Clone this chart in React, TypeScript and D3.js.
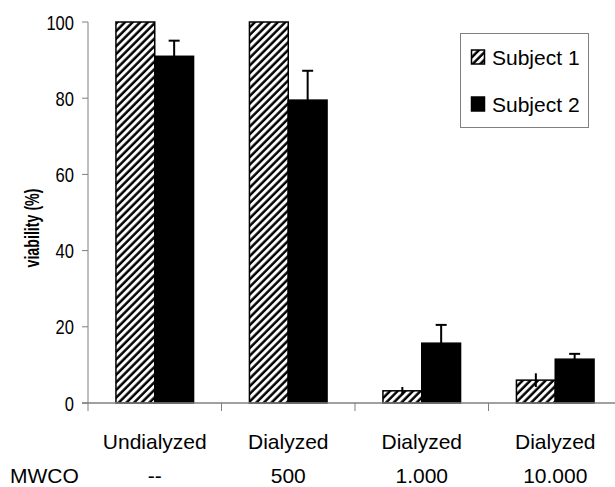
import * as d3 from 'd3';

// chart data
const categories = ['Undialyzed', 'Dialyzed 500', 'Dialyzed 1.000', 'Dialyzed 10.000'];
const treatmentLabels = ['Undialyzed', 'Dialyzed', 'Dialyzed', 'Dialyzed'];
const mwcoLabels = ['--', '500', '1.000', '10.000'];
const seriesNames = ['Subject 1', 'Subject 2'];
const subject1 = [100, 100, 3.2, 6.0];
const subject1Err = [0, 0, 1.0, 1.8];
const subject2 = [91, 79.5, 15.7, 11.5];
const subject2Err = [4.1, 7.7, 4.8, 1.4];
const yTicks = [0, 20, 40, 60, 80, 100];

const W = 615;
const H = 487;
const font = 'Arial, "Liberation Sans", Helvetica, sans-serif';

export default function App() {
    const margin = { left: 88, top: 22, bottom: 403 };
    const catWidth = 133.5;

    const x = d3.scaleBand<string>()
        .domain(categories)
        .range([margin.left, margin.left + catWidth * categories.length])
        .paddingInner(0)
        .paddingOuter(0);

    const xSub = d3.scaleBand<string>()
        .domain(seriesNames)
        .range([0, x.bandwidth()])
        .paddingInner(0)
        .paddingOuter(0.72);

    const y = d3.scaleLinear().domain([0, 100]).range([margin.bottom, margin.top]);

    const series = [
        { name: seriesNames[0], values: subject1, errs: subject1Err, hatched: true },
        { name: seriesNames[1], values: subject2, errs: subject2Err, hatched: false },
    ];

    const axisColor = '#808080';
    const bw = xSub.bandwidth();

    return (
        <svg
            width={W}
            height={H}
            style={{ position: 'absolute', left: 0, top: 0, background: '#fff' }}
            fontFamily={font}
        >
            <defs>
                <pattern id="hatch" width="5.4" height="5.4" patternUnits="userSpaceOnUse"
                    patternTransform="rotate(45)">
                    <rect width="5.4" height="5.4" fill="#fff" />
                    <line x1="1.5" y1="0" x2="1.5" y2="5.4" stroke="#000" strokeWidth="2.5" />
                </pattern>
            </defs>

            {/* y axis */}
            <line x1={margin.left} x2={margin.left} y1={y(100)} y2={y(0)} stroke={axisColor} strokeWidth={1} />
            {yTicks.map(t => (
                <g key={t}>
                    <line x1={margin.left - 6} x2={margin.left} y1={y(t)} y2={y(t)} stroke={axisColor} />
                    <text
                        x={74}
                        y={y(t)}
                        textAnchor="end"
                        dominantBaseline="central"
                        fontSize={21}
                        textLength={String(t).length * 9.2}
                        lengthAdjust="spacingAndGlyphs"
                    >{t}</text>
                </g>
            ))}

            {/* y title */}
            <text
                transform={`translate(39,228) rotate(-90)`}
                textAnchor="middle"
                fontSize={20}
                fontWeight="bold"
                textLength={79}
                lengthAdjust="spacingAndGlyphs"
            >viability (%)</text>

            {/* bars */}
            {series.map(s => (
                <g key={s.name}>
                    {categories.map((c, i) => {
                        const bx = (x(c) || 0) + (xSub(s.name) || 0);
                        return (
                            <rect
                                key={c}
                                x={bx}
                                y={y(s.values[i])}
                                width={bw}
                                height={y(0) - y(s.values[i])}
                                fill={s.hatched ? 'url(#hatch)' : '#000'}
                                stroke="#000"
                                strokeWidth={1.5}
                            />
                        );
                    })}
                </g>
            ))}

            {/* error bars */}
            {series.map(s => (
                <g key={s.name + '-err'}>
                    {categories.map((c, i) => {
                        if (!s.errs[i]) return null;
                        const cx = (x(c) || 0) + (xSub(s.name) || 0) + bw / 2;
                        const top = y(s.values[i] + s.errs[i]);
                        const bottom = y(s.values[i] - s.errs[i]);
                        return (
                            <g key={c} stroke="#000" strokeWidth={2}>
                                <line x1={cx} x2={cx} y1={top} y2={bottom} />
                                {!s.hatched && <line x1={cx - 5.5} x2={cx + 5.5} y1={top} y2={top} />}
                            </g>
                        );
                    })}
                </g>
            ))}

            {/* x axis */}
            <line x1={margin.left - 6} x2={W} y1={y(0)} y2={y(0)} stroke={axisColor} strokeWidth={1.5} />
            {categories.map(c => (
                <line key={c} x1={x(c)} x2={x(c)} y1={y(0)} y2={y(0) + 8} stroke={axisColor} />
            ))}

            {/* category labels */}
            {categories.map((c, i) => (
                <g key={c + '-lbl'}>
                    <text x={(x(c) || 0) + x.bandwidth() / 2} y={449} textAnchor="middle" fontSize={21}>
                        {treatmentLabels[i]}
                    </text>
                    <text x={(x(c) || 0) + x.bandwidth() / 2} y={483} textAnchor="middle" fontSize={21}>
                        {mwcoLabels[i]}
                    </text>
                </g>
            ))}
            <text x={10} y={483} fontSize={21}>MWCO</text>

            {/* legend */}
            <rect x={460.5} y={33.5} width={128} height={94} fill="#fff" stroke={axisColor} strokeWidth={1} />
            {series.map((s, i) => {
                const ly = 50 + i * 47;
                return (
                    <g key={s.name + '-leg'}>
                        <rect x={471.5} y={ly} width={13} height={14}
                            fill={s.hatched ? 'url(#hatch)' : '#000'} stroke="#000" strokeWidth={1.5} />
                        <text x={492} y={ly + 15} fontSize={21}>{s.name}</text>
                    </g>
                );
            })}
        </svg>
    );
}
